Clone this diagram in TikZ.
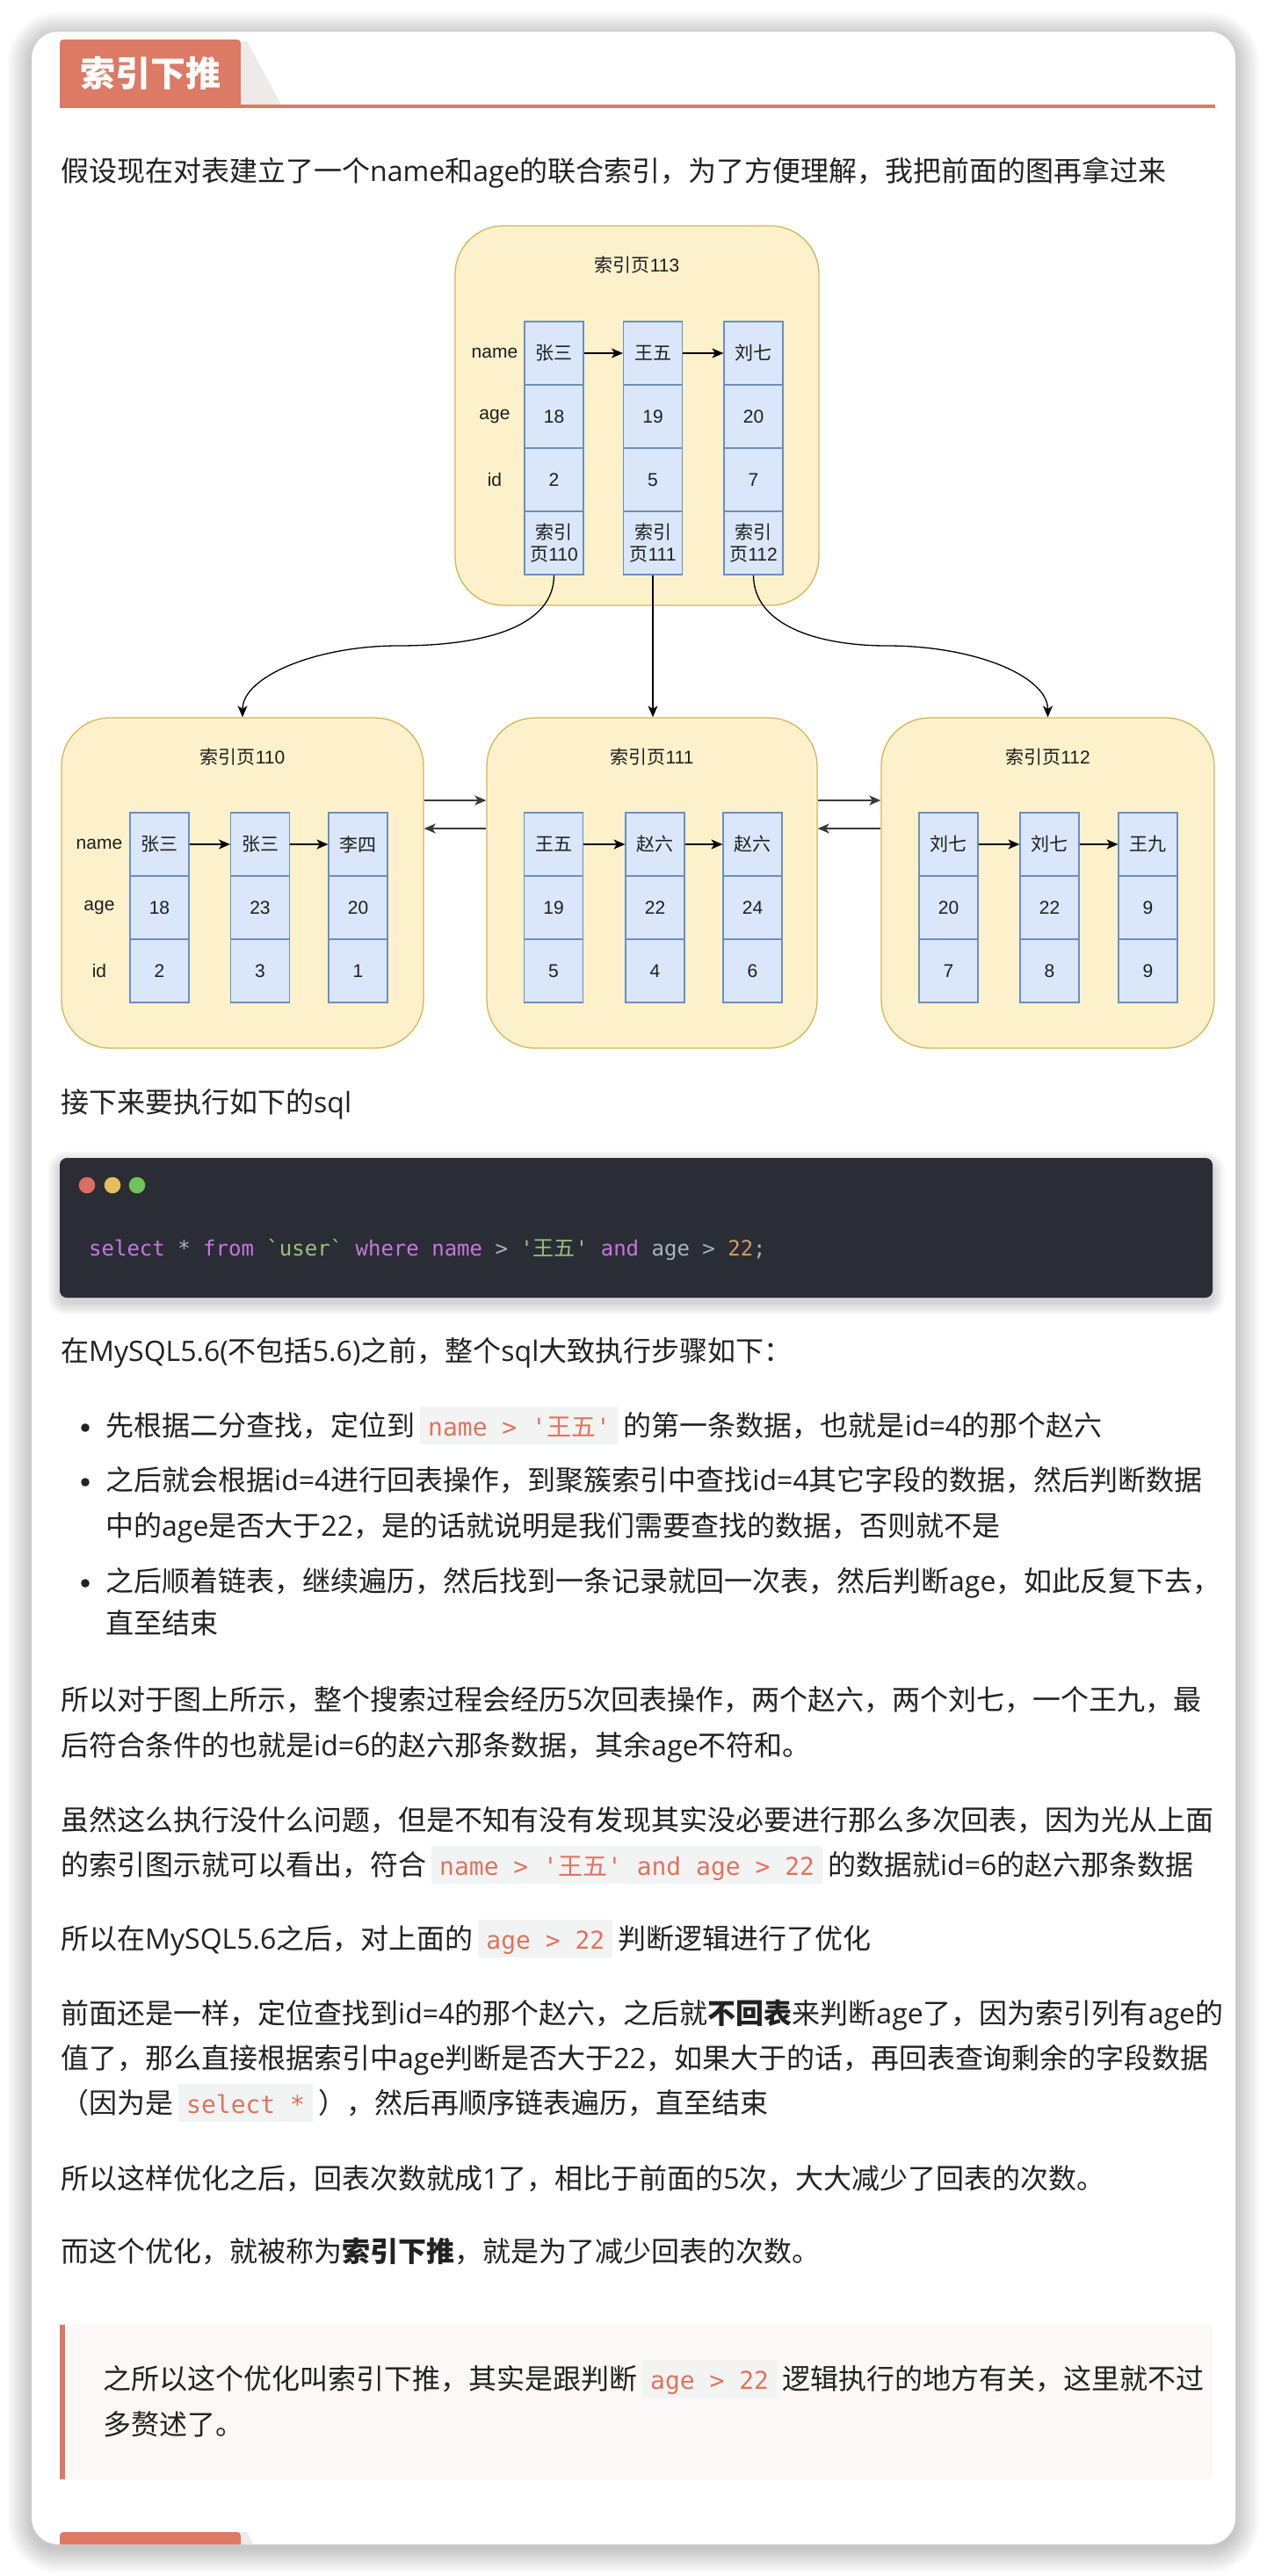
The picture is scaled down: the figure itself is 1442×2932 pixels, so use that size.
\documentclass[tikz,border=0pt]{standalone}
\usepackage{fontspec}
\setmainfont{Open Sans}
\setmonofont{DejaVu Sans Mono}
\newfontfamily\cjkfont{Noto Sans CJK SC}
\newfontfamily\diafont{Liberation Sans}
\usetikzlibrary{arrows.meta}

% automatic switch to the CJK font for CJK characters
\XeTeXinterchartokenstate=1
\chardef\CJKcls=8
\newcount\cjkc
\cjkc="3000 \loop\ifnum\cjkc<"3040 \XeTeXcharclass\cjkc=\CJKcls\relax\advance\cjkc by 1 \repeat
\cjkc="4E00 \loop\ifnum\cjkc<"A000 \XeTeXcharclass\cjkc=\CJKcls\relax\advance\cjkc by 1 \repeat
\cjkc="FF00 \loop\ifnum\cjkc<"FFF0 \XeTeXcharclass\cjkc=\CJKcls\relax\advance\cjkc by 1 \repeat
\XeTeXinterchartoks 0 \CJKcls = {\begingroup\cjkfont}
\XeTeXinterchartoks 4095 \CJKcls = {\begingroup\cjkfont}
\XeTeXinterchartoks \CJKcls 0 = {\endgroup}
\XeTeXinterchartoks \CJKcls 4095 = {\endgroup}

\definecolor{accent}{HTML}{DC7A66}
\definecolor{tabgrey}{HTML}{EEEAE7}
\definecolor{txt}{HTML}{222222}
\definecolor{dtxt}{HTML}{1E1E1E}
\definecolor{boxfill}{HTML}{FCF1CB}
\definecolor{boxline}{HTML}{D6B656}
\definecolor{cellfill}{HTML}{DAE6F9}
\definecolor{cellline}{HTML}{6C8EBF}
\definecolor{linkc}{HTML}{3A3A3A}
\definecolor{codebg}{HTML}{2A2D35}
\definecolor{kw}{HTML}{C678DD}
\definecolor{str}{HTML}{98C379}
\definecolor{plain}{HTML}{ABB2BF}
\definecolor{num}{HTML}{D19A66}
\definecolor{dotr}{HTML}{DC6E5F}
\definecolor{doty}{HTML}{E6BF5A}
\definecolor{dotg}{HTML}{6EC35A}
\definecolor{icbg}{HTML}{F2F3F3}
\definecolor{icfg}{HTML}{E0735F}
\definecolor{quotebg}{HTML}{FCF8F7}

\newcommand{\ic}[1]{\hspace{6pt}{\setlength{\fboxsep}{0pt}\colorbox{icbg}{\rule[-10pt]{0pt}{43pt}\hspace{9pt}\fontsize{28}{30}\selectfont\ttfamily\color{icfg}#1\hspace{9pt}}}\hspace{6pt}}

\begin{document}
\begin{tikzpicture}[x=1pt,y=-1pt,
  body/.style={anchor=base west, inner sep=0pt, font=\fontsize{32}{38}\selectfont, text=txt},
  pagebox/.style={draw=boxline, fill=boxfill, line width=1.3pt, rounded corners=55pt, inner sep=0pt},
  cell/.style={draw=cellline, fill=cellfill, line width=1.1pt, minimum width=67pt, minimum height=72pt,
    inner sep=0pt, align=center, font=\diafont\fontsize{21}{25}\selectfont, text=dtxt},
  lab/.style={inner sep=0pt, font=\diafont\fontsize{21}{25}\selectfont, text=dtxt},
  arr/.style={-{Stealth[length=13pt,width=11pt,inset=3.5pt]}, line width=1.3pt, draw=black},
  link/.style={-{Stealth[length=13pt,width=11pt,inset=3.5pt]}, line width=2.2pt, draw=linkc},
]
\useasboundingbox (0,0) rectangle (1442,2932);
\fill[white] (0,0) rectangle (1442,2932);

% card shadow and card
\foreach \i in {1,...,28}
  \fill[black, opacity=0.0065, rounded corners={(30+\i)*1pt}] ({36-\i},{36-\i+5}) rectangle ({1406+\i},{2896+\i+5});
\fill[white, rounded corners=30pt] (36,36) rectangle (1406,2896);

% heading
\fill[tabgrey] (274,47) -- (281,47) -- (320,119) -- (274,119) -- cycle;
\fill[accent, rounded corners=4pt] (68,119) -- (68,45) -- (274,45) -- (274,119);
\fill[accent] (68,119) rectangle (1383,123);
\node[inner sep=0pt, text=white, font=\fontsize{40}{44}\selectfont\bfseries] (title) at (171,83) {索引下推};

\node[body] (l1) at (69,206) {假设现在对表建立了一个name和age的联合索引，为了方便理解，我把前面的图再拿过来};

% ---------------- diagram ----------------
\node[pagebox, minimum width=414pt, minimum height=432pt] (b113) at (725,473) {};
\node[pagebox, minimum width=412pt, minimum height=376pt] (b110) at (276,1005) {};
\node[pagebox, minimum width=376pt, minimum height=376pt] (b111) at (742,1005) {};
\node[pagebox, minimum width=379pt, minimum height=376pt] (b112) at (1192.5,1005) {};

\node[lab] (t113) at (725,302) {索引页113};
\node[lab] (t110) at (276,862) {索引页110};
\node[lab] (t111) at (742,862) {索引页111};
\node[lab] (t112) at (1192.5,862) {索引页112};

% top page
\node[lab] (n0) at (563,402) {name};
\node[lab] (g0) at (563,474) {age};
\node[lab] (i0) at (563,546) {id};
\node[cell] (a1) at (630.5,402) {张三};
\node[cell] (a2) at (630.5,474) {18};
\node[cell] (a3) at (630.5,546) {2};
\node[cell] (a4) at (630.5,618) {索引\\页110};
\node[cell] (b1) at (743,402) {王五};
\node[cell] (b2) at (743,474) {19};
\node[cell] (b3) at (743,546) {5};
\node[cell] (b4) at (743,618) {索引\\页111};
\node[cell] (c1) at (857.5,402) {刘七};
\node[cell] (c2) at (857.5,474) {20};
\node[cell] (c3) at (857.5,546) {7};
\node[cell] (c4) at (857.5,618) {索引\\页112};
\draw[arr] (a1.east) -- (b1.west);
\draw[arr] (b1.east) -- (c1.west);

% page 110
\node[lab] (n1) at (113,961) {name};
\node[lab] (g1) at (113,1033) {age};
\node[lab] (i1) at (113,1105) {id};
\node[cell] (p1) at (181.5,961) {张三};
\node[cell] (p2) at (181.5,1033) {18};
\node[cell] (p3) at (181.5,1105) {2};
\node[cell] (q1) at (296,961) {张三};
\node[cell] (q2) at (296,1033) {23};
\node[cell] (q3) at (296,1105) {3};
\node[cell] (r1) at (407.5,961) {李四};
\node[cell] (r2) at (407.5,1033) {20};
\node[cell] (r3) at (407.5,1105) {1};
\draw[arr] (p1.east) -- (q1.west);
\draw[arr] (q1.east) -- (r1.west);

% page 111
\node[cell] (s1) at (630,961) {王五};
\node[cell] (s2) at (630,1033) {19};
\node[cell] (s3) at (630,1105) {5};
\node[cell] (u1) at (745.5,961) {赵六};
\node[cell] (u2) at (745.5,1033) {22};
\node[cell] (u3) at (745.5,1105) {4};
\node[cell] (v1) at (856.5,961) {赵六};
\node[cell] (v2) at (856.5,1033) {24};
\node[cell] (v3) at (856.5,1105) {6};
\draw[arr] (s1.east) -- (u1.west);
\draw[arr] (u1.east) -- (v1.west);

% page 112
\node[cell] (w1) at (1079.5,961) {刘七};
\node[cell] (w2) at (1079.5,1033) {20};
\node[cell] (w3) at (1079.5,1105) {7};
\node[cell] (x1) at (1194.5,961) {刘七};
\node[cell] (x2) at (1194.5,1033) {22};
\node[cell] (x3) at (1194.5,1105) {8};
\node[cell] (z1) at (1306.5,961) {王九};
\node[cell] (z2) at (1306.5,1033) {9};
\node[cell] (z3) at (1306.5,1105) {9};
\draw[arr] (w1.east) -- (x1.west);
\draw[arr] (x1.east) -- (z1.west);

% connectors from the top page
\coordinate (m1) at (453,735);
\coordinate (m2) at (1010,735);
\draw[arr] (a4.south) .. controls (630.5,710) and (560,735) .. (m1) .. controls (360,735) and (276,770) .. (b110.north);
\draw[arr] (b4.south) -- (b4.south |- b111.north);
\draw[arr] (c4.south) .. controls (857.5,710) and (927,735) .. (m2) .. controls (1110,735) and (1192.5,770) .. (b112.north);

% links between leaf pages
\coordinate (yA) at (0,911);
\coordinate (yB) at (0,943);
\draw[link] (b110.east |- yA) -- (b111.west |- yA);
\draw[link] (b111.west |- yB) -- (b110.east |- yB);
\draw[link] (b111.east |- yA) -- (b112.west |- yA);
\draw[link] (b112.west |- yB) -- (b111.east |- yB);

% ---------------- text ----------------
\node[body] (l2) at (69,1266) {接下来要执行如下的sql};

% code block
\foreach \i in {1,...,14}
  \fill[black, opacity=0.012, rounded corners={(8+\i)*1pt}] ({68-\i},{1318-\i+6}) rectangle ({1380+\i},{1477+\i+6});
\fill[codebg, rounded corners=8pt] (68,1318) rectangle (1380,1477);
\fill[dotr] (99,1349) circle[radius=9.3pt];
\fill[doty] (128,1349) circle[radius=9.3pt];
\fill[dotg] (156,1349) circle[radius=9.3pt];
\node[anchor=base west, inner sep=0pt, font=\fontsize{24}{28}\selectfont\ttfamily] (code) at (101,1429)
  {\textcolor{kw}{select} \textcolor{plain}{*} \textcolor{kw}{from} \textcolor{str}{`user`} \textcolor{kw}{where} \textcolor{kw}{name} \textcolor{plain}{>} \textcolor{str}{'王五'} \textcolor{kw}{and} \textcolor{plain}{age} \textcolor{plain}{>} \textcolor{num}{22}\textcolor{plain}{;}};

\node[body] (l3) at (69,1549) {在MySQL5.6(不包括5.6)之前，整个sql大致执行步骤如下：};

\fill[txt] (97,1625) circle[radius=4.8pt];
\node[body] (bl1) at (120,1634) {先根据二分查找，定位到\ic{name > '王五'}的第一条数据，也就是id=4的那个赵六};
\fill[txt] (97,1687) circle[radius=4.8pt];
\node[body] (bl2a) at (120,1696) {之后就会根据id=4进行回表操作，到聚簇索引中查找id=4其它字段的数据，然后判断数据};
\node[body] (bl2b) at (120,1748) {中的age是否大于22，是的话就说明是我们需要查找的数据，否则就不是};
\fill[txt] (97,1802) circle[radius=4.8pt];
\node[body] (bl3a) at (120,1811) {之后顺着链表，继续遍历，然后找到一条记录就回一次表，然后判断age，如此反复下去，};
\node[body] (bl3b) at (120,1859) {直至结束};

\node[body] (l4a) at (69,1946) {所以对于图上所示，整个搜索过程会经历5次回表操作，两个赵六，两个刘七，一个王九，最};
\node[body] (l4b) at (69,1998) {后符合条件的也就是id=6的赵六那条数据，其余age不符和。};

\node[body] (l5a) at (69,2083) {虽然这么执行没什么问题，但是不知有没有发现其实没必要进行那么多次回表，因为光从上面};
\node[body] (l5b) at (69,2134) {的索引图示就可以看出，符合\ic{name > '王五' and age > 22}的数据就id=6的赵六那条数据};

\node[body] (l6) at (69,2218) {所以在MySQL5.6之后，对上面的\ic{age > 22}判断逻辑进行了优化};

\node[body] (l7a) at (69,2303) {前面还是一样，定位查找到id=4的那个赵六，之后就\textbf{不回表}来判断age了，因为索引列有age的};
\node[body] (l7b) at (69,2354) {值了，那么直接根据索引中age判断是否大于22，如果大于的话，再回表查询剩余的字段数据};
\node[body] (l7c) at (69,2405) {（因为是\ic{select *}），然后再顺序链表遍历，直至结束};

\node[body] (l8) at (69,2491) {所以这样优化之后，回表次数就成1了，相比于前面的5次，大大减少了回表的次数。};

\node[body] (l9) at (69,2574) {而这个优化，就被称为\textbf{索引下推}，就是为了减少回表的次数。};

% blockquote
\fill[quotebg] (68,2646) rectangle (1380,2822);
\fill[accent] (68,2646) rectangle (74,2822);
\node[body] (q1l) at (117,2719) {之所以这个优化叫索引下推，其实是跟判断\ic{age > 22}逻辑执行的地方有关，这里就不过};
\node[body] (q2l) at (117,2771) {多赘述了。};

% next heading, cut by the card edge
\fill[tabgrey] (274,2882) -- (281,2882) -- (288.5,2896) -- (274,2896) -- cycle;
\fill[accent, rounded corners=4pt] (68,2896) -- (68,2882) -- (274,2882) -- (274,2896);
\end{tikzpicture}
\end{document}
